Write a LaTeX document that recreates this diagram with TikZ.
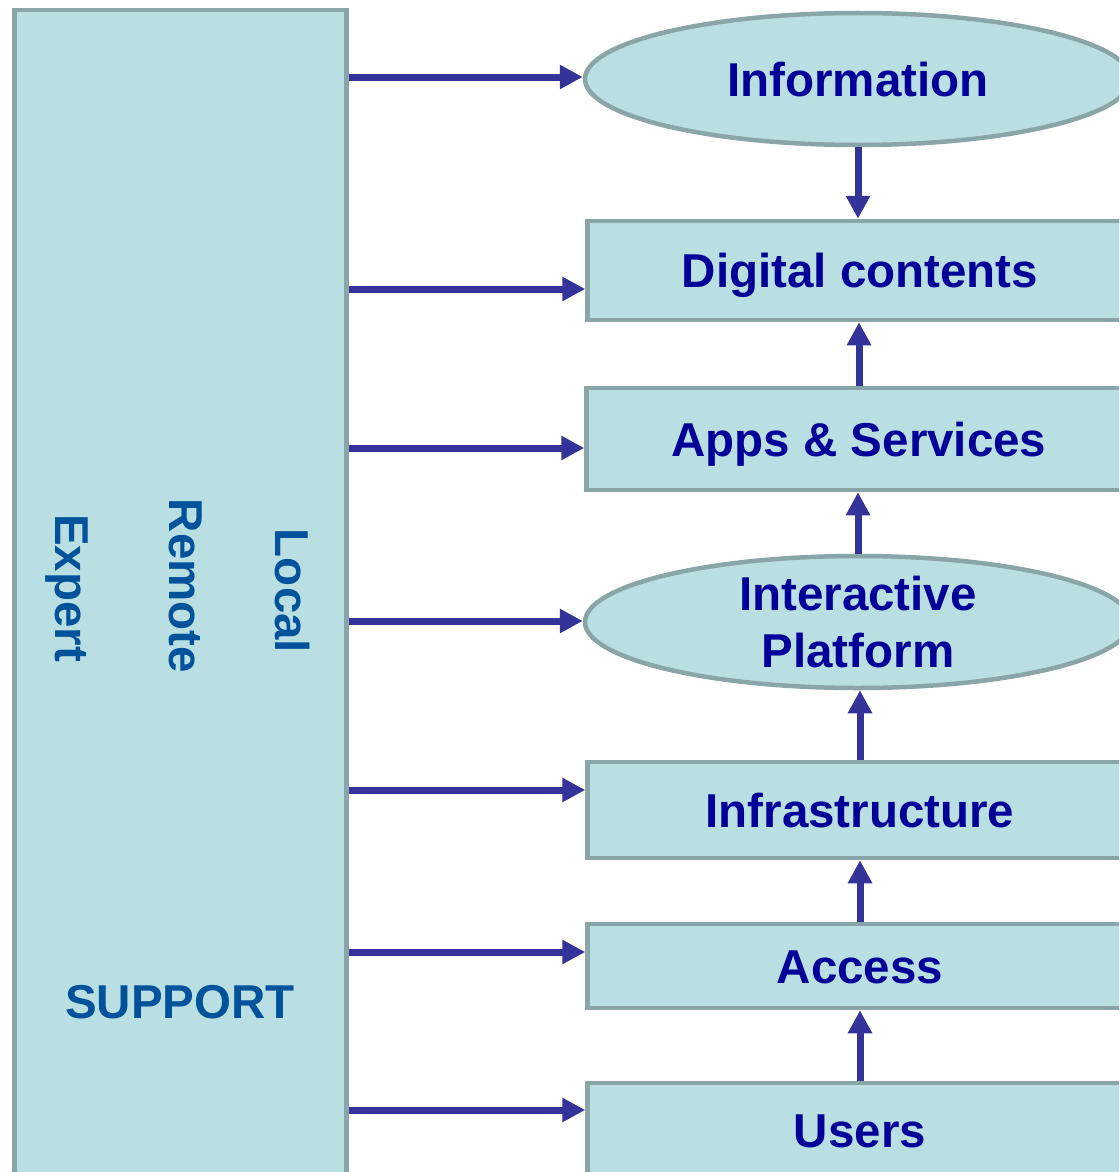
\documentclass[tikz,border=0pt]{standalone}
\usepackage{fontspec}
\setmainfont{Liberation Sans}
\usetikzlibrary{shapes.geometric,arrows.meta}
\definecolor{boxfill}{HTML}{BADFE2}
\definecolor{boxline}{HTML}{8AA5A7}
\definecolor{arrowc}{HTML}{333399}
\definecolor{nodetext}{HTML}{000099}
\definecolor{suptext}{HTML}{00529B}
\tikzset{
  layer/.style={draw=boxline, line width=4.5pt, fill=boxfill, text=nodetext, inner sep=0pt,
    font=\fontsize{47.5}{57}\selectfont\bfseries, align=center, text height=34pt, text depth=0pt},
  layerbox/.style={layer, rectangle, minimum width=545pt},
  layerell/.style={layer, ellipse, minimum width=546pt, minimum height=132pt},
  suplabel/.style={text=suptext, font=\fontsize{47.5}{57}\selectfont\bfseries, inner sep=0pt},
  conn/.style={draw=arrowc, line width=7pt, -{Triangle[length=23pt,width=23pt]}}
}
\begin{document}
\begin{tikzpicture}[x=1pt,y=-1pt]
\clip (0,0) rectangle (1119,1172);
\fill[white] (0,0) rectangle (1119,1172);
% support column
\node[draw=boxline, line width=4.5pt, fill=boxfill, rectangle, inner sep=0pt,
  minimum width=332pt, minimum height=1190pt] (support) at (180.5,605) {};
\node[suplabel, rotate=-90] (local) at (292,591) {Local};
\node[suplabel, rotate=-90] (remote) at (186,586) {Remote};
\node[suplabel, rotate=-90] (expert) at (67,588) {Expert};
\node[suplabel] (supp) at (180,1002) {SUPPORT};
% layers
\node[layerell] (info) at (858,79) {Information};
\node[layerbox, minimum height=99pt] (digital) at (860,270.5) {Digital contents};
\node[layerbox, minimum height=102pt] (apps) at (859,439) {Apps \& Services};
\node[layerell, text height=91pt] (inter) at (858,622) {Interactive\\[0pt]Platform};
\node[layerbox, minimum height=96pt] (infra) at (860,810) {Infrastructure};
\node[layerbox, minimum height=84pt] (access) at (860,966) {Access};
\node[layerbox, minimum height=116pt] (users) at (860,1141) {};
\node[text=nodetext, font=\fontsize{47.5}{57}\selectfont\bfseries, inner sep=0pt,
  text height=34pt, text depth=0pt] (userst) at (860,1130) {Users};
% horizontal connectors
\draw[conn] (support.east |- 0,77) -- (info.west |- 0,77);
\draw[conn] (support.east |- 0,289) -- (digital.west |- 0,289);
\draw[conn] (support.east |- 0,448) -- (apps.west |- 0,448);
\draw[conn] (support.east |- 0,621) -- (inter.west |- 0,621);
\draw[conn] (support.east |- 0,790) -- (infra.west |- 0,790);
\draw[conn] (support.east |- 0,952) -- (access.west |- 0,952);
\draw[conn] (support.east |- 0,1110) -- (users.west |- 0,1110);
% vertical connectors
\draw[conn] (info.south) -- (info.south |- digital.north);
\draw[conn] (apps.north) -- (apps.north |- digital.south);
\draw[conn] (inter.north) -- (inter.north |- apps.south);
\draw[conn] (infra.north) -- (infra.north |- inter.south);
\draw[conn] (access.north) -- (access.north |- infra.south);
\draw[conn] (users.north) -- (users.north |- access.south);
\end{tikzpicture}
\end{document}
